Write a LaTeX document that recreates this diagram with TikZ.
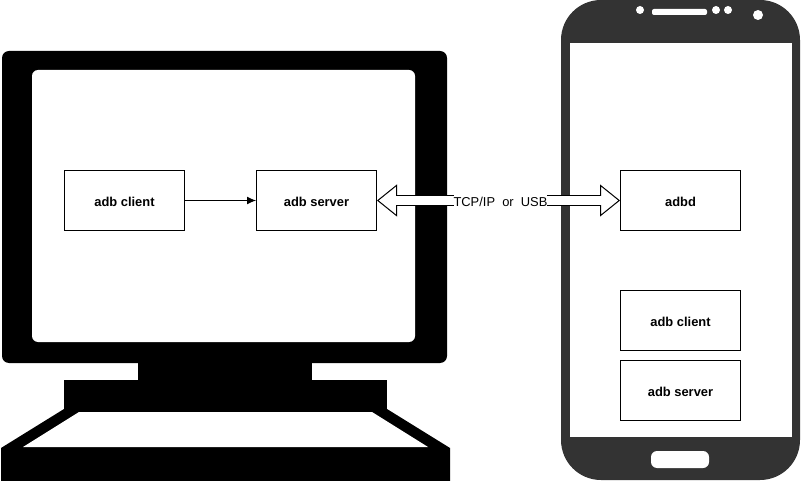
\documentclass[tikz,border=0pt]{standalone}
\usepackage{fontspec}
\setmainfont{Liberation Sans}
\usetikzlibrary{arrows.meta}

\definecolor{phonegray}{HTML}{333333}

\tikzset{
  box/.style={draw,line width=1pt,fill=white,minimum width=120pt,minimum height=60pt,inner sep=0pt,text height=11.4pt,text depth=0pt,font=\fontsize{12.9}{14}\selectfont\bfseries},
  hollowtip/.tip={Triangle[fill=white,line width=1pt,length=20pt,width=32pt]}
}

\begin{document}
\begin{tikzpicture}[x=1pt,y=-1pt]

\useasboundingbox (0,0) rectangle (801,481);

% monitor
\fill[rounded corners=7pt] (2,51) rectangle (447,363);
\fill[white,rounded corners=6pt] (32,70) rectangle (415,342);
\fill (138,360) rectangle (312,381);
\fill (64,380) rectangle (387,412);
\fill (1,448) -- (64,409) -- (387,409) -- (450,448) -- (450,481) -- (1,481) -- cycle;
\fill[white] (79,412) -- (372,412) -- (428,447) -- (23,447) -- cycle;

% phone
\fill[phonegray,rounded corners=40pt] (561,0) rectangle (800,480);
\fill[white] (570,43) rectangle (792,437);
\fill[white] (640,10) circle (4);
\fill[white] (716,10) circle (4);
\fill[white] (728,10) circle (4);
\fill[white] (758,15) circle (5);
\fill[white,rounded corners=2pt] (652,9) rectangle (707,15);
\fill[white,rounded corners=6pt] (651,451) rectangle (709,468);

\node[box] (pcclient) at (124.5,200.5) {adb client};
\node[box] (pcserver) at (316.5,200.5) {adb server};
\node[box] (adbd) at (680.5,200.5) {adbd};
\node[box] (phoneclient) at (680.5,320.5) {adb client};
\node[box] (phoneserver) at (680.5,390.5) {adb server};

\draw[line width=1pt,-{Latex[length=9pt,width=8pt]}] (pcclient) -- (pcserver);

\draw[line width=11pt,{hollowtip}-{hollowtip}] (pcserver.east) -- (adbd.west);
\draw[line width=9pt,white,shorten <=18pt,shorten >=18pt] (pcserver.east) -- node[xshift=2pt,fill=white,text=black,inner xsep=0pt,inner ysep=5pt,text height=11.2pt,text depth=0pt,font=\fontsize{12.9}{14}\selectfont] {TCP/IP\ \ or\ \ USB} (adbd.west);

\end{tikzpicture}
\end{document}
